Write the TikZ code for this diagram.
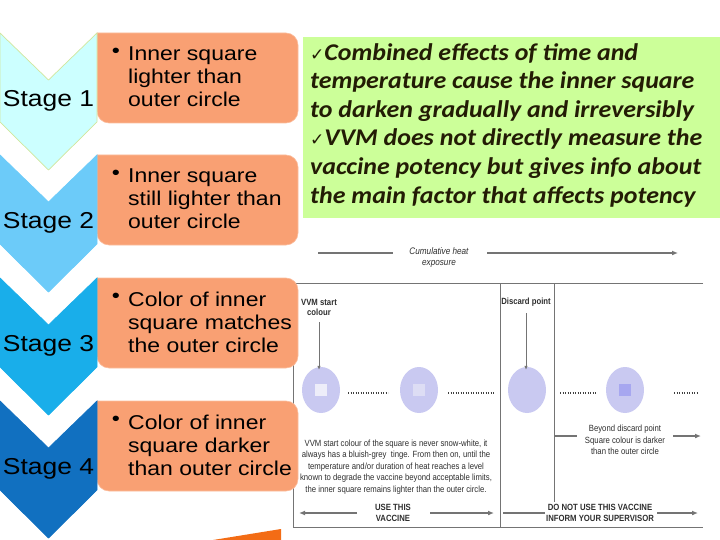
\documentclass[tikz,border=0pt]{standalone}
\usepackage{fontspec}
\usepackage{xcolor}
\usetikzlibrary{shapes.geometric,arrows.meta}

\setmainfont{Liberation Sans}[FakeStretch=1.15]
\newfontfamily\notefont{Carlito}[FakeStretch=1.08]
\newfontfamily\chartfont{Liberation Sans}[FakeStretch=0.86]
\newfontfamily\tickfont{DejaVu Sans}

\definecolor{stageone}{HTML}{CCFFFF}
\definecolor{stagetwo}{HTML}{6CCBF9}
\definecolor{stagethree}{HTML}{19AEEA}
\definecolor{stagefour}{HTML}{1170C0}
\definecolor{stageedge}{HTML}{D2E69C}
\definecolor{boxorange}{HTML}{F9A073}
\definecolor{notegreen}{HTML}{CCFF99}
\definecolor{notedark}{HTML}{231C05}
\definecolor{vvmblue}{HTML}{C9C9F1}
\definecolor{sqone}{HTML}{EDEDF9}
\definecolor{sqtwo}{HTML}{DDDDF4}
\definecolor{sqfour}{HTML}{A7A7F0}
\definecolor{linegray}{HTML}{747474}
\definecolor{textgray}{HTML}{2E2E2E}
\definecolor{wedgeorange}{HTML}{F36C15}

\tikzset{
  stagelabel/.style={font=\fontsize{23}{25}\selectfont, text=black, inner sep=0pt},
  infotext/.style={font=\fontsize{20}{23}\selectfont, align=left, inner sep=0pt, text=black},
  chartline/.style={draw=linegray, line width=1.2pt},
  chartarrow/.style={chartline, -{Latex[length=6pt,width=5pt]}},
  charttext/.style={font=\chartfont\fontsize{9}{11.5}\selectfont, text=textgray, align=center, inner sep=0pt},
  chartbold/.style={charttext, font=\chartfont\bfseries\fontsize{9}{10.5}\selectfont},
  vvm/.style={ellipse, fill=vvmblue, minimum width=38pt, minimum height=46pt, inner sep=0pt},
  vvmsquare/.style={rectangle, minimum size=12pt, inner sep=0pt},
  dots/.style={draw=black!75, line width=1.1pt, dash pattern=on 0.9pt off 1.6pt}
}

\begin{document}
\begin{tikzpicture}[x=1pt,y=-1pt]
  \useasboundingbox (0,0) rectangle (720,540);

  % VVM chart (frame)
  \draw[chartline, line width=1pt] (703,283) -- (293,283) -- (293,527) -- (703,527);
  \draw[chartline, line width=1pt] (500,283) -- (500,527);
  \draw[chartline, line width=1pt] (554,283) -- (554,502);

  % cumulative heat exposure
  \node[charttext, font=\chartfont\itshape\fontsize{9.5}{11}\selectfont] (heat) at (439,258) {Cumulative heat\\exposure};
  \coordinate (heatfrom) at (318,253);
  \coordinate (heatleft) at (393,253);
  \coordinate (heatright) at (487,253);
  \coordinate (heatto) at (678,253);
  \draw[chartline] (heatfrom) -- (heatleft);
  \draw[chartarrow] (heatright) -- (heatto);

  % start colour and discard point
  \node[chartbold] (startlbl) at (319,307.5) {VVM start\\colour};
  \node[chartbold] (discardlbl) at (526,302) {Discard point};
  \node[vvm] (vvm1) at (321,390) {};
  \node[vvm] (vvm2) at (419,390) {};
  \node[vvm] (vvm3) at (527,390) {};
  \node[vvm] (vvm4) at (625,390) {};
  \node[vvmsquare, fill=sqone] (sq1) at (vvm1) {};
  \node[vvmsquare, fill=sqtwo] (sq2) at (vvm2) {};
  \node[vvmsquare, fill=sqfour] (sq4) at (vvm4) {};
  \draw[chartline, line width=0.9pt, -{Latex[length=4pt,width=3.5pt]}] ([yshift=-6pt]startlbl.south) -- ([yshift=-3pt]vvm1.north -| startlbl);
  \draw[chartline, line width=0.9pt, -{Latex[length=4pt,width=3.5pt]}] ([yshift=-7pt]discardlbl.south) -- ([yshift=-3pt]vvm3.north -| discardlbl);

  % dotted runs between the indicators
  \draw[dots] (348,393) -- (388,393);
  \draw[dots] (448,393) -- (494,393);
  \draw[dots] (560,393) -- (596,393);
  \draw[dots] (674,393) -- (697,393);

  % explanations
  \node[charttext] (startnote) at (396,467) {VVM start colour of the square is never snow-white, it\\always has a bluish-grey\ \ tinge. From then on, until the\\temperature and/or duration of heat reaches a level\\known to degrade the vaccine beyond acceptable limits,\\the inner square remains lighter than the outer circle.};
  \node[charttext] (beyond) at (625,440) {Beyond discard point\\Square colour is darker\\than the outer circle};
  \coordinate (beyondfrom) at (554,436);
  \coordinate (beyondleft) at (577,436);
  \coordinate (beyondright) at (673,436);
  \coordinate (beyondto) at (701,436);
  \draw[chartline] (beyondfrom) -- (beyondleft);
  \draw[chartarrow] (beyondright) -- (beyondto);

  % use / do not use
  \node[chartbold] (usethis) at (393,513) {USE THIS\\VACCINE};
  \node[chartbold] (donotuse) at (600,513) {DO NOT USE THIS VACCINE\\INFORM YOUR SUPERVISOR};
  \coordinate (useleft) at (357,513);
  \coordinate (useleftend) at (299,513);
  \coordinate (useright) at (430,513);
  \coordinate (userightend) at (494,513);
  \coordinate (dontfrom) at (503,513);
  \coordinate (dontleft) at (545,513);
  \coordinate (dontright) at (657,513);
  \coordinate (dontto) at (698,513);
  \draw[chartarrow] (useleft) -- (useleftend);
  \draw[chartarrow] (useright) -- (userightend);
  \draw[chartline] (dontfrom) -- (dontleft);
  \draw[chartarrow] (dontright) -- (dontto);

  % green note
  \fill[notegreen] (303,37) rectangle (720,218);
  \node[infotext, font=\notefont\bfseries\itshape\fontsize{24}{28.6}\selectfont, text=notedark, anchor=west] (note) at (310,125)
    {{\tickfont\fontsize{17}{17}\selectfont ✓}Combined effects of time and\\temperature cause the inner square\\to darken gradually and irreversibly\\{\tickfont\fontsize{17}{17}\selectfont ✓}VVM does not directly measure the\\vaccine potency but gives info about\\the main factor that affects potency};

  % stages: orange boxes behind the chevrons
  \foreach \n/\ty/\col/\edge/\txt in {
      1/33/stageone/stageedge/{Inner square\\lighter than\\outer circle},
      2/155/stagetwo/stagetwo/{Inner square\\still lighter than\\outer circle},
      3/278/stagethree/stagethree/{Color of inner\\square matches\\the outer circle},
      4/401/stagefour/stagefour/{Color of inner\\square darker\\than outer circle}}{
    \filldraw[fill=boxorange, draw=boxorange!70!white, line width=0.6pt] (97,\ty) [rounded corners=12pt] -- (298,\ty) -- (298,\ty+90) -- (97,\ty+90) [sharp corners] -- cycle;
    \filldraw[fill=\col, draw=\edge, line width=0.7pt] (0,\ty) -- (48.5,\ty+47) -- (97,\ty) -- (97,\ty+89) -- (48.5,\ty+137) -- (0,\ty+89) -- cycle;
    \node[stagelabel] (stage\n) at (48.5,\ty+68) {Stage \n};
    \node[infotext] (bullet\n) at (116,\ty+20) {\textbullet};
    \node[infotext, anchor=west] (info\n) at (128,\ty+44) {\txt};
  }

  % orange wedge at the bottom
  \fill[wedgeorange] (213,540) -- (281,529) -- (281,540) -- cycle;
\end{tikzpicture}
\end{document}
